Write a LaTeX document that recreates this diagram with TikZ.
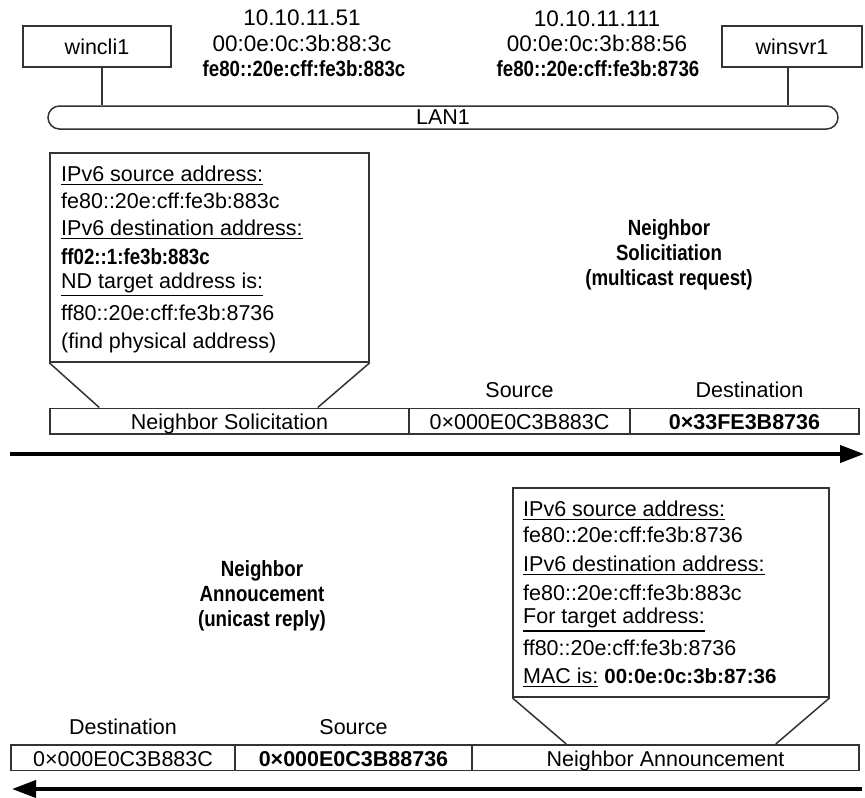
\documentclass[tikz,border=0pt]{standalone}
\usepackage{fontspec}
\setmainfont{Liberation Sans}
\newfontfamily\condsans[FakeStretch=0.85]{Liberation Sans}
\usetikzlibrary{arrows.meta}

% text sizes
\newcommand\bodytext{\fontsize{21.5}{26}\selectfont}
\newcommand\hosttext{\fontsize{22.5}{26}\selectfont}
\newcommand\headtext{\fontsize{22}{25}\selectfont\condsans\bfseries}
% heavier underline that drops below descenders
\newcommand\undl[1]{\vtop{\hbox{#1}\kern1.8pt\hrule height 1.6pt}}

\begin{document}
\begin{tikzpicture}[x=1pt,y=-1pt,
  wire/.style={draw=black!80, line width=1.5pt},
  frame/.style={wire, inner sep=0pt},
  hostbox/.style={frame, minimum width=#1, minimum height=41, font=\bodytext},
  cell/.style={frame, minimum width=#1, minimum height=25.5, text height=17pt, text depth=0pt, font=\bodytext},
  txtline/.style={anchor=base west, inner sep=0pt, font=\bodytext},
  caption/.style={anchor=base, inner sep=0pt, font=\bodytext},
  hostlabel/.style={anchor=base, inner sep=0pt, font=\hosttext},
  heading/.style={align=center, inner sep=0pt, font=\headtext},
  flow/.style={line width=4pt, -{Triangle[length=24pt,width=17pt]}}
]
\fill[white] (0,0) rectangle (865,798);
\useasboundingbox (0,0) rectangle (865,798);

% hosts and the LAN segment
\node[hostbox=148] (cli) at (97,46.5) {wincli1};
\node[hostbox=140] (svr) at (792,46.5) {winsvr1};
\node[frame, rounded corners=11.5pt, minimum width=790, minimum height=23, font=\bodytext] (lan) at (443,117.5) {LAN1};
\draw[wire] ([xshift=5pt]cli.south) -- ([xshift=5pt]cli.south |- lan.north);
\draw[wire] ([xshift=-4pt]svr.south) -- ([xshift=-4pt]svr.south |- lan.north);

% host addresses
\node[hostlabel] (ip1) at (302,25) {10.10.11.51};
\node[hostlabel] (mac1) at (302,51.5) {00:0e:0c:3b:88:3c};
\node[anchor=base, inner sep=0pt, font=\headtext] (ll1) at (304,76.5) {fe80::20e:cff:fe3b:883c};
\node[hostlabel] (ip2) at (597,26) {10.10.11.111};
\node[hostlabel] (mac2) at (597,51.7) {00:0e:0c:3b:88:56};
\node[anchor=base, inner sep=0pt, font=\headtext] (ll2) at (598,76) {fe80::20e:cff:fe3b:8736};

% ---- solicitation (request) ----
\node[frame, minimum width=319, minimum height=209] (req) at (209.5,257.5) {};
\node[txtline] (r1) at (61,181.7) {\undl{IPv6 source address:}};
\node[txtline] (r2) at (61,208.5) {fe80::20e:cff:fe3b:883c};
\node[txtline] (r3) at (61,235.7) {\undl{IPv6 destination address:}};
\node[anchor=base west, inner sep=0pt, font=\headtext] (r4) at (61,264.2) {ff02::1:fe3b:883c};
\node[txtline] (r5) at (61,288.5) {\undl{ND target address is:}};
\node[txtline] (r6) at (61,320.5) {ff80::20e:cff:fe3b:8736};
\node[txtline] (r7) at (61,348.2) {(find physical address)};

\node[cell=359] (ns) at (229.5,421) {Neighbor Solicitation};
\node[cell=221] (nssrc) at (519.5,421) {0×000E0C3B883C};
\node[cell=229] (nsdst) at (744.5,421) {\bfseries 0×33FE3B8736};
\draw[wire] (req.south west) -- ([xshift=50pt]ns.north west);
\draw[wire] (req.south east) -- ([xshift=-92pt]ns.north east);
\node[caption] (lsrc1) at ([yshift=10pt]nssrc.north) {Source};
\node[caption] (ldst1) at ([xshift=5pt,yshift=10pt]nsdst.north) {Destination};

\node[heading] (hd1) at (669,255) {Neighbor\\Solicitiation\\(multicast request)};

\coordinate (a1s) at (10,454);
\coordinate (a1e) at (864,454);
\draw[flow] (a1s) -- (a1e);

% ---- announcement (reply) ----
\node[frame, minimum width=316, minimum height=209] (rep) at (671,592.5) {};
\node[txtline] (p1) at (523,516.7) {\undl{IPv6 source address:}};
\node[txtline] (p2) at (523,542.7) {fe80::20e:cff:fe3b:8736};
\node[txtline] (p3) at (523,571.7) {\undl{IPv6 destination address:}};
\node[txtline] (p4) at (523,600.7) {fe80::20e:cff:fe3b:883c};
\node[txtline] (p5) at (523,623.7) {\undl{For target address:}};
\node[txtline] (p6) at (523,655.7) {ff80::20e:cff:fe3b:8736};
\node[txtline] (p7) at (523,683.7) {\undl{MAC is:} {\fontsize{20.5}{24}\selectfont\bfseries 00:0e:0c:3b:87:36}};

\node[cell=224] (nadst) at (123,757.5) {0×000E0C3B883C};
\node[cell=237] (nasrc) at (353.5,757.5) {\bfseries 0×000E0C3B88736};
\node[cell=387] (na) at (665.5,757.5) {Neighbor Announcement};
\draw[wire] (rep.south west) -- ([xshift=95pt]na.north west);
\draw[wire] (rep.south east) -- ([xshift=-84pt]na.north east);
\node[caption] (ldst2) at ([yshift=9.5pt]nadst.north) {Destination};
\node[caption] (lsrc2) at ([yshift=9.5pt]nasrc.north) {Source};

\node[heading] (hd2) at (262,596) {Neighbor\\Annoucement\\(unicast reply)};

\coordinate (a2s) at (862,789);
\coordinate (a2e) at (12,789);
\draw[flow] (a2s) -- (a2e);
\end{tikzpicture}
\end{document}
